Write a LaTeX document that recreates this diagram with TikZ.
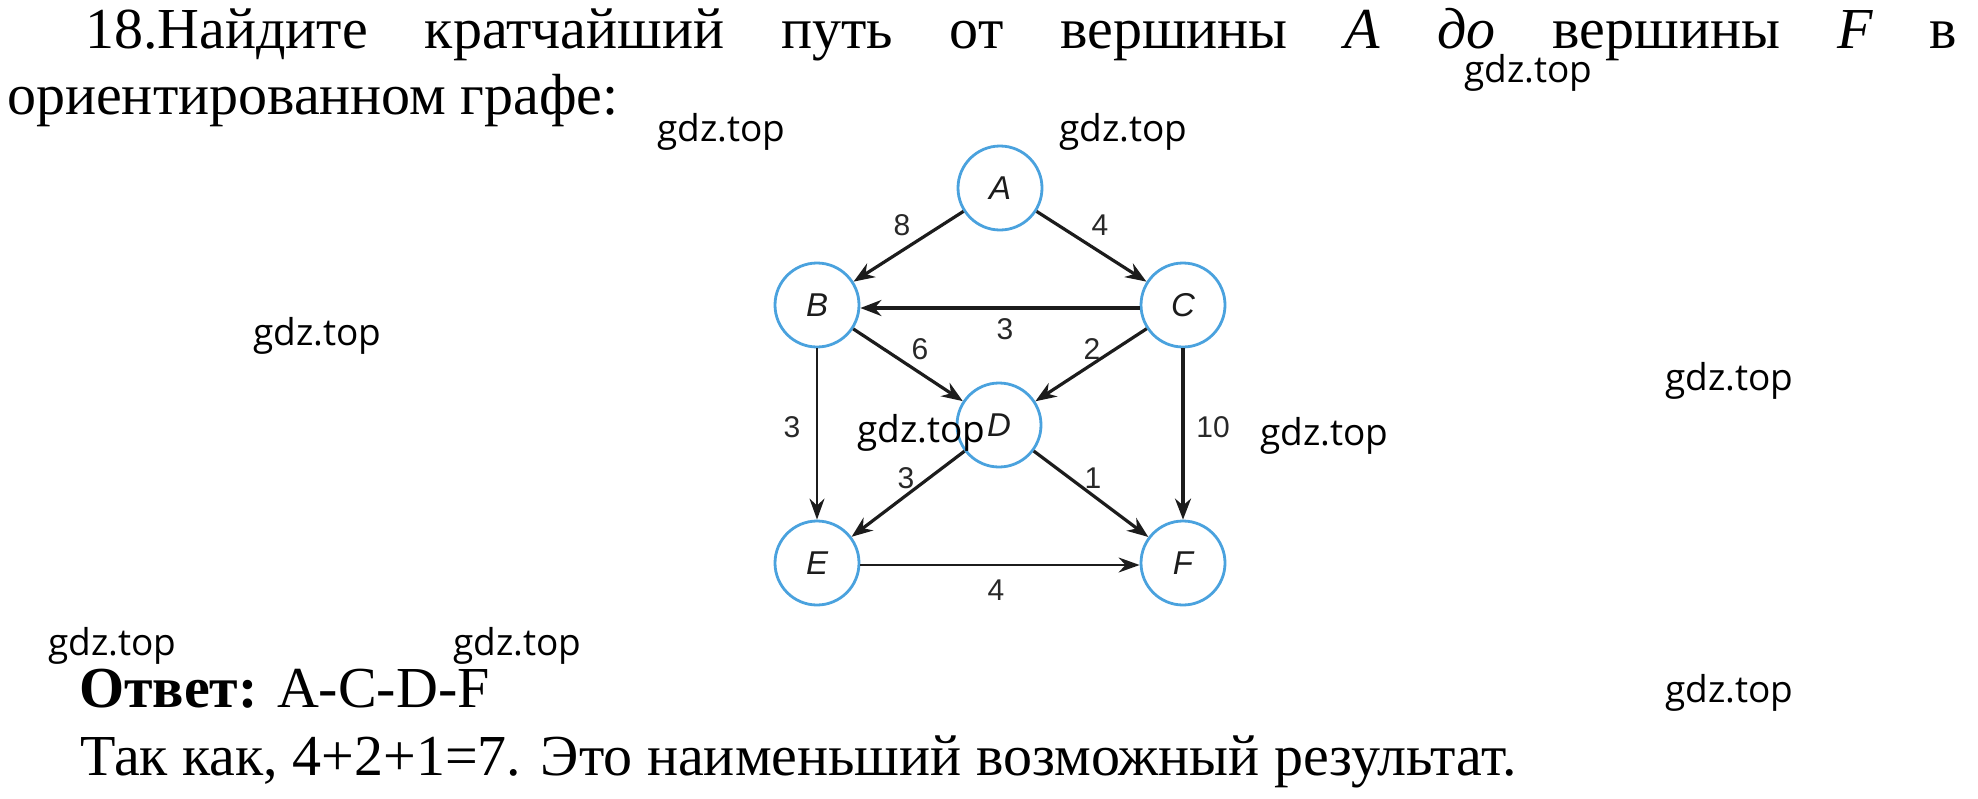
\documentclass[tikz,border=0pt]{standalone}
\usepackage{fontspec}
\setmainfont{Liberation Serif}
\newfontfamily\wmfont{Open Sans}
\newfontfamily\gfont{Liberation Sans}
\usetikzlibrary{arrows.meta}
\definecolor{nodeblue}{RGB}{74,162,222}
\definecolor{edgegray}{RGB}{28,28,28}
\definecolor{labgray}{RGB}{40,40,40}
\begin{document}
\begin{tikzpicture}[x=1pt,y=-1pt,
  vtx/.style={circle, draw=nodeblue, line width=2.8pt, minimum size=84pt, inner sep=0pt, text=edgegray, font=\gfont\itshape\fontsize{33}{33}\selectfont},
  edg/.style={draw=edgegray, line width=3.2pt, -{Stealth[length=21pt,width=16pt]}},
  thinedg/.style={draw=edgegray, line width=2.1pt, -{Stealth[length=21pt,width=15pt]}},
  wlab/.style={font=\gfont\fontsize{30}{30}\selectfont, text=labgray, inner sep=0pt},
  wm/.style={font=\wmfont\fontsize{37}{37}\selectfont, anchor=base west, inner sep=0pt},
  txt/.style={font=\fontsize{58}{58}\selectfont, anchor=base west, inner sep=0pt}]
\useasboundingbox (0,0) rectangle (1978,798);
\fill[white] (0,0) rectangle (1978,798);

% text
\node[txt] (t1) at (85,48) {\hbox to 1872pt{18.Найдите\hfill кратчайший\hfill путь\hfill от\hfill вершины\hfill \textit{A}\hfill \textit{до}\hfill вершины\hfill \textit{F}\hfill в}};
\node[txt] (t2) at (7,114) {ориентированном графе:};
\node[txt] (t3) at (79,707) {\textbf{Ответ:} A-C-D-F};
\node[txt] (t4) at (80,775) {Так как, 4+2+1=7. Это наименьший возможный результат.};

% graph
\node[vtx] (A) at (1000,188) {A};
\node[vtx] (B) at (817,305) {B};
\node[vtx] (C) at (1183,305) {C};
\node[vtx] (D) at (999,425) {D};
\node[vtx] (E) at (817,563) {E};
\node[vtx] (F) at (1183,563) {F};

\draw[edg] (A) -- (B);
\draw[edg] (A) -- (C);
\draw[edg] ([yshift=-3pt]C.west) -- ([yshift=-3pt]B.east);
\draw[edg] (B) -- (D);
\draw[edg] (C) -- (D);
\draw[thinedg] (B) -- (E);
\draw[edg] (C) -- (F);
\draw[edg] (D) -- (E);
\draw[edg] (D) -- (F);
\draw[thinedg] ([yshift=-2pt]E.east) -- ([yshift=-2pt]F.west);

\node[wlab] (lAB) at (902,225) {8};
\node[wlab] (lAC) at (1100,225) {4};
\node[wlab] (lCB) at (1005,329) {3};
\node[wlab] (lBD) at (920,349) {6};
\node[wlab] (lCD) at (1092,349) {2};
\node[wlab] (lBE) at (792,427) {3};
\node[wlab] (lCF) at (1213,427) {10};
\node[wlab] (lDE) at (906,478) {3};
\node[wlab] (lDF) at (1093,478) {1};
\node[wlab] (lEF) at (996,590) {4};

% watermarks
\node[wm] (w1) at (1464,82) {gdz.top};
\node[wm] (w2) at (657,141) {gdz.top};
\node[wm] (w3) at (1059,141) {gdz.top};
\node[wm] (w4) at (253,345) {gdz.top};
\node[wm] (w5) at (1665,390) {gdz.top};
\node[wm] (w6) at (857,442) {gdz.top};
\node[wm] (w7) at (1260,445) {gdz.top};
\node[wm] (w8) at (48,655) {gdz.top};
\node[wm] (w9) at (453,655) {gdz.top};
\node[wm] (w10) at (1665,702) {gdz.top};
\end{tikzpicture}
\end{document}
